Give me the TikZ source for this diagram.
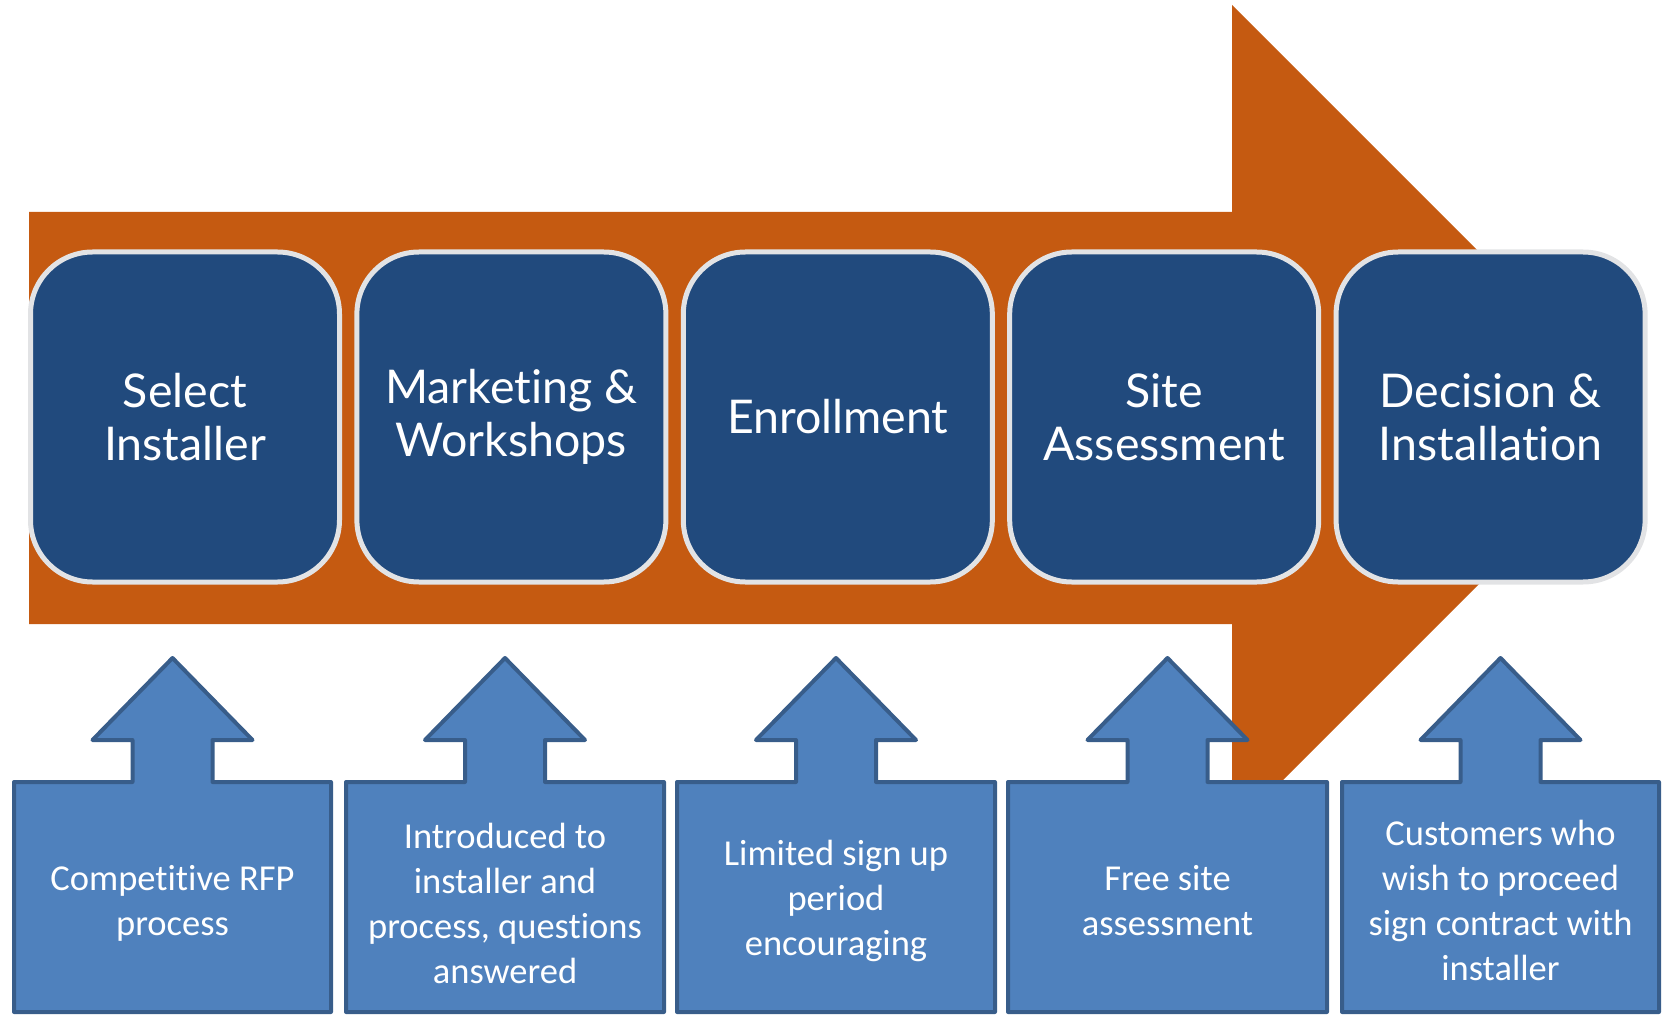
\documentclass[tikz,border=0pt]{standalone}
\usepackage{fontspec}
\setmainfont[Ligatures=NoCommon]{Carlito}
\newfontfamily\gillfont[Ligatures=NoCommon]{Lato}
\definecolor{flow}{HTML}{C55A11}
\definecolor{stagefill}{HTML}{214A7D}
\definecolor{stageedge}{HTML}{E2E3E5}
\definecolor{notefill}{HTML}{4F81BD}
\definecolor{noteedge}{HTML}{385D8A}
\begin{document}
\begin{tikzpicture}[x=1pt,y=-1pt,
  stagebox/.style={draw=stageedge, line width=5pt, fill=stagefill, rounded corners=62pt,
    minimum width=309pt, minimum height=330pt, align=center, text=white,
    font=\gillfont\fontsize{46.5}{53}\selectfont, inner sep=0pt},
  notebody/.style={draw=noteedge, line width=4pt, fill=notefill, line join=round},
  notetext/.style={align=center, text=white, font=\fontsize{36.5}{45}\selectfont, inner sep=0pt}
]
\useasboundingbox (0,0) rectangle (1663,1016);
% big orange arrow
\fill[flow] (29,212) -- (1232,212) -- (1232,5) -- (1645,418) -- (1232,831) -- (1232,624) -- (29,624) -- cycle;
% stage boxes
\node[stagebox] (s1) at (185,417) {Select\\Installer};
\node[stagebox] (s2) at (511.4,417) {Marketing \&\\Workshops};
\node[stagebox] (s3) at (837.8,417) {Enrollment};
\node[stagebox] (s4) at (1164.2,417) {Site\\Assessment};
\node[stagebox] (s5) at (1490.6,417) {Decision \&\\Installation};
% callouts
\foreach \L/\R/\c in {14/331/172.5, 346/664/505, 677/995/836, 1008/1327/1167.5, 1342/1659/1500.5}{
  \draw[notebody] (\L,782) -- (\c-40,782) -- (\c-40,740) -- (\c-80,740) -- (\c,658)
    -- (\c+80,740) -- (\c+40,740) -- (\c+40,782) -- (\R,782) -- (\R,1012) -- (\L,1012) -- cycle;
}
\node[notetext] (n1) at (172.5,903) {Competitive RFP\\process};
\node[notetext] (n2) at (505,903) {Introduced to\\installer and\\process, questions\\answered};
\node[notetext] (n3) at (836,901) {Limited sign up\\period\\encouraging};
\node[notetext] (n4) at (1167.5,901) {Free site\\assessment};
\node[notetext] (n5) at (1500.5,900) {Customers who\\wish to proceed\\sign contract with\\installer};
\end{tikzpicture}
\end{document}
